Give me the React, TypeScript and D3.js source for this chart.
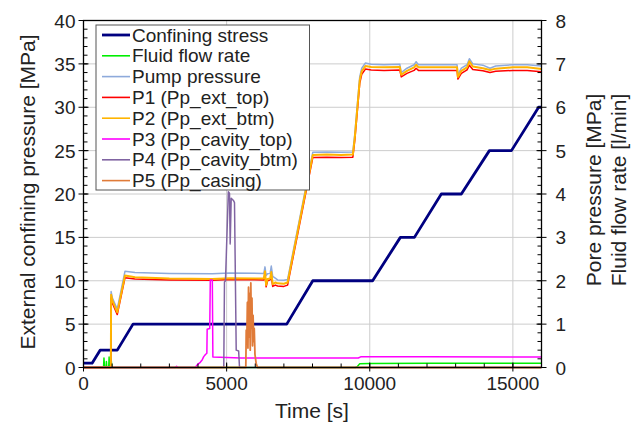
import React from 'react';
import * as d3 from 'd3';

// ---------- axes ----------
const xTicks = [0, 5000, 10000, 15000];
const xMinor = d3.range(0, 16001, 1000);
const yLeftTicks = [0, 5, 10, 15, 20, 25, 30, 35, 40];
const yLeftMinor = d3.range(0, 40.01, 1);
const yRightTicks = [0, 1, 2, 3, 4, 5, 6, 7, 8];
const yRightMinor = d3.range(0, 8.001, 0.2);

// ---------- data ----------
// Confining stress (left axis, MPa)
const confT = [0, 300, 580, 1180, 1730, 7100, 8010, 10100, 11070, 11560, 12500, 13200, 14180, 14950, 15900, 16000];
const confV = [0.5, 0.5, 2, 2, 5, 5, 10, 10, 15, 15, 20, 20, 25, 25, 30, 30];

// Pump pressure / P1 / P2 (right axis, MPa), common sampling times
const pressT = [0, 955, 965, 1010, 1180, 1450, 1800, 3000, 4500, 5100, 6300, 6340, 6380, 6430, 6520, 6560, 6610, 6700, 6780, 7000, 7130, 8010, 8500, 9000, 9410, 9480, 9650, 9720, 9850, 10050, 10500, 11050, 11100, 11300, 11550, 11620, 11700, 12500, 13050, 13080, 13200, 13400, 13480, 13600, 13950, 14200, 14400, 15000, 15500, 16000];
const pumpV = [0, 0, 1.75, 1.6, 1.35, 2.22, 2.19, 2.17, 2.16, 2.18, 2.17, 2.32, 2.12, 2.16, 2.17, 2.34, 2.1, 2.06, 2.02, 2.01, 2.03, 4.96, 4.97, 4.96, 4.97, 5.4, 6.7, 6.9, 7.02, 6.99, 6.98, 6.99, 6.8, 6.9, 6.98, 7.05, 6.98, 6.98, 6.98, 6.75, 6.9, 6.98, 7.12, 7.0, 6.97, 6.9, 6.95, 6.98, 6.98, 6.95];
const p1V = [0, 0, 1.6, 1.48, 1.22, 2.07, 2.04, 2.02, 2.01, 2.03, 2.02, 2.15, 1.86, 2.0, 2.02, 2.1, 1.87, 1.9, 1.88, 1.87, 1.9, 4.84, 4.85, 4.84, 4.85, 5.25, 6.55, 6.76, 6.88, 6.86, 6.85, 6.86, 6.7, 6.78, 6.85, 6.9, 6.85, 6.85, 6.85, 6.65, 6.78, 6.86, 6.97, 6.87, 6.84, 6.8, 6.83, 6.85, 6.85, 6.82];
const p2V = [0, 0, 1.68, 1.54, 1.27, 2.12, 2.08, 2.05, 2.04, 2.06, 2.05, 2.22, 1.9, 2.04, 2.05, 2.2, 1.92, 1.96, 1.94, 1.93, 1.96, 4.9, 4.91, 4.9, 4.91, 5.32, 6.62, 6.83, 6.95, 6.93, 6.92, 6.93, 6.75, 6.84, 6.92, 6.98, 6.92, 6.92, 6.92, 6.7, 6.84, 6.92, 7.06, 6.94, 6.9, 6.86, 6.89, 6.92, 6.92, 6.88];

// Fluid flow rate (right axis, l/min)
const flowT = [0, 700, 715, 735, 790, 800, 815, 880, 895, 915, 950, 965, 990, 9500, 9560, 9650, 10000, 12000, 14000, 16000];
const flowV = [0, 0, 0.22, 0, 0, 0.14, 0, 0, 0.24, 0, 0, 0.2, 0, 0, 0.02, 0.085, 0.09, 0.1, 0.1, 0.1];

// P3 (right axis, MPa)
const p3T = [0, 3200, 3250, 3300, 3900, 4000, 4080, 4150, 4200, 4260, 4310, 4320, 4410, 4430, 4500, 4520, 5500, 7000, 9600, 9700, 12000, 16000];
const p3V = [0, 0, 0.03, 0, 0, 0.08, 0.12, 0.18, 0.25, 0.3, 0.33, 0.88, 0.9, 2.02, 2.02, 0.24, 0.22, 0.22, 0.22, 0.25, 0.25, 0.24];

// P4 (right axis, MPa)
const p4T = [0, 4900, 4925, 4960, 5060, 5100, 5125, 5160, 5240, 5275, 5335, 5420, 5450, 16000];
const p4V = [0, 0, 1.97, 2.0, 4.05, 4.02, 2.85, 3.9, 3.85, 3.8, 0.4, 0.38, 0, 0];

// P5 (right axis, MPa)
const p5T = [0, 5670, 5685, 5705, 5725, 5745, 5765, 5785, 5805, 5825, 5845, 5865, 5885, 5905, 5925, 5945, 5965, 5990, 6030, 6080, 16000];
const p5V = [0, 0, 0.86, 0.55, 1.5, 0.45, 1.85, 0.7, 1.7, 0.4, 1.95, 0.9, 1.6, 0.5, 1.2, 0.6, 0.9, 0.3, 0.1, 0, 0];

const legendLabels = ['Confining stress', 'Fluid flow rate', 'Pump pressure', 'P1 (Pp_ext_top)', 'P2 (Pp_ext_btm)', 'P3 (Pp_cavity_top)', 'P4 (Pp_cavity_btm)', 'P5 (Pp_casing)'];
const legendColors = ['#000080', '#00ee00', '#8eaadb', '#ff0000', '#ffb400', '#ff00ff', '#8064a2', '#e07b39'];

const FONT = 'Liberation Sans, Arial, sans-serif';

export default function App() {
  const L = 83.5, R = 541.5, T = 20.5, B = 367.5;
  const x = d3.scaleLinear().domain([0, 16000]).range([L, R]);
  const yL = d3.scaleLinear().domain([0, 40]).range([B, T]);
  const yR = d3.scaleLinear().domain([0, 8]).range([B, T]);

  const mk = (ts: number[], vs: number[], ys: d3.ScaleLinear<number, number>) =>
    d3.line<number>().x((_, i) => x(ts[i])).y((v) => ys(v))(vs) || '';

  const series = [
    { d: mk(confT, confV, yL), c: legendColors[0], w: 2.8 },
    { d: mk(flowT, flowV, yR), c: legendColors[1], w: 1.5 },
    { d: mk(pressT, pumpV, yR), c: legendColors[2], w: 1.5 },
    { d: mk(pressT, p1V, yR), c: legendColors[3], w: 1.5 },
    { d: mk(pressT, p2V, yR), c: legendColors[4], w: 2 },
    { d: mk(p3T, p3V, yR), c: legendColors[5], w: 1.5 },
    { d: mk(p4T, p4V, yR), c: legendColors[6], w: 1.5 },
    { d: mk(p5T, p5V, yR), c: legendColors[7], w: 1.8 },
  ];

  const legX = 96, legY = 25, legW = 213.5, legH = 165;
  const rowY = (i: number) => 35 + i * 20.8;

  return (
    <svg width={640} height={424} style={{ position: 'absolute', left: 0, top: 0, background: '#fff' }} fontFamily={FONT}>
      <rect x={0} y={0} width={640} height={424} fill="#fff" />
      {/* grid */}
      {yLeftTicks.filter((t) => t > 0 && t < 40).map((t) => (
        <line key={'gy' + t} x1={L} x2={R} y1={yL(t)} y2={yL(t)} stroke="#cccccc" strokeWidth={1} />
      ))}
      {xTicks.filter((t) => t > 0).map((t) => (
        <line key={'gx' + t} x1={x(t)} x2={x(t)} y1={T} y2={B} stroke="#cccccc" strokeWidth={1} />
      ))}
      {/* series */}
      <g clipPath="url(#clip)">
        {series.map((s, i) => (
          <path key={i} d={s.d} fill="none" stroke={s.c} strokeWidth={s.w} strokeLinejoin="round" />
        ))}
      </g>
      <defs>
        <clipPath id="clip"><rect x={L} y={T - 2} width={R - L} height={B - T + 4} /></clipPath>
      </defs>
      {/* frame */}
      <rect x={L} y={T} width={R - L} height={B - T} fill="none" stroke="#000" strokeWidth={1.3} />
      {/* x ticks */}
      {xMinor.map((t) => (
        <line key={'xm' + t} x1={x(t)} x2={x(t)} y1={B} y2={B - 4} stroke="#000" strokeWidth={1} />
      ))}
      {xTicks.map((t) => (
        <g key={'xt' + t}>
          <line x1={x(t)} x2={x(t)} y1={B + 4} y2={B - 5} stroke="#000" strokeWidth={1} />
          <text x={x(t)} y={B + 22} textAnchor="middle" fontSize={19} fill="#222">{t}</text>
        </g>
      ))}
      {/* left ticks */}
      {yLeftMinor.map((t) => (
        <line key={'ylm' + t} x1={L} x2={L + 4} y1={yL(t)} y2={yL(t)} stroke="#000" strokeWidth={1} />
      ))}
      {yLeftTicks.map((t) => (
        <g key={'ylt' + t}>
          <line x1={L - 5} x2={L + 5} y1={yL(t)} y2={yL(t)} stroke="#000" strokeWidth={1} />
          <text x={L - 8} y={yL(t) + 7} textAnchor="end" fontSize={19} fill="#222">{t}</text>
        </g>
      ))}
      {/* right ticks */}
      {yRightMinor.map((t, i) => (
        <line key={'yrm' + i} x1={R} x2={R - 4} y1={yR(t)} y2={yR(t)} stroke="#000" strokeWidth={1} />
      ))}
      {yRightTicks.map((t) => (
        <g key={'yrt' + t}>
          <line x1={R - 5} x2={R + 5} y1={yR(t)} y2={yR(t)} stroke="#000" strokeWidth={1} />
          <text x={R + 14} y={yR(t) + 7} textAnchor="start" fontSize={19} fill="#222">{t}</text>
        </g>
      ))}
      {/* axis titles */}
      <text x={312} y={418} textAnchor="middle" fontSize={21} fill="#222">Time [s]</text>
      <text transform={`translate(35,${(T + B) / 2 - 2}) rotate(-90)`} textAnchor="middle" fontSize={21} fill="#222">External confining pressure [MPa]</text>
      <text transform={`translate(601,190) rotate(-90)`} textAnchor="middle" fontSize={21} fill="#222">Pore pressure [MPa]</text>
      <text transform={`translate(626,190) rotate(-90)`} textAnchor="middle" fontSize={21} fill="#222">Fluid flow rate [l/min]</text>
      {/* legend */}
      <rect x={legX} y={legY} width={legW} height={legH} fill="#fff" stroke="#555" strokeWidth={1} />
      {legendLabels.map((lab, i) => (
        <g key={'lg' + i}>
          <line x1={102} x2={130} y1={rowY(i)} y2={rowY(i)} stroke={legendColors[i]} strokeWidth={i === 0 ? 2.8 : 1.6} />
          <text x={132} y={rowY(i) + 6.5} fontSize={19} fill="#222">{lab}</text>
        </g>
      ))}
    </svg>
  );
}
